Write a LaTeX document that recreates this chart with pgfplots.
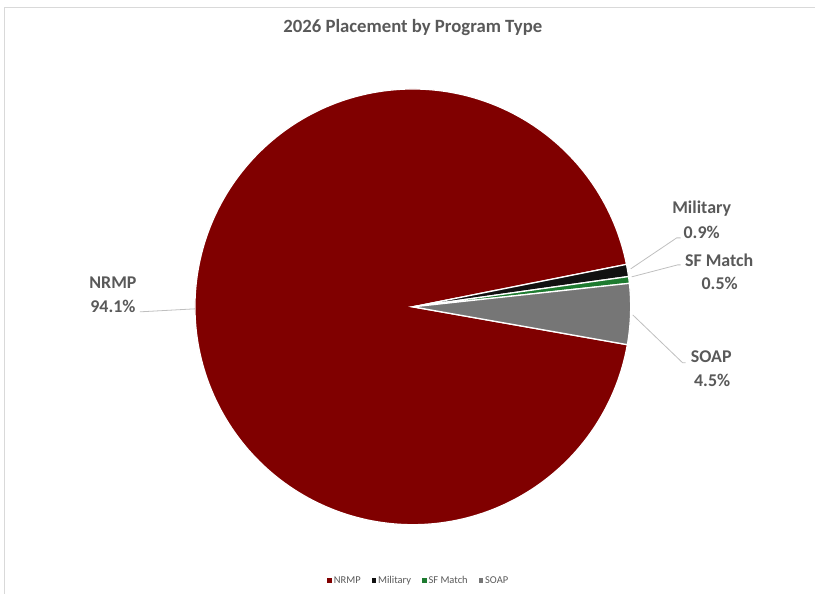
\documentclass[border=0pt]{standalone}
\usepackage{pgfplots}
\pgfplotsset{compat=1.18}
\usepackage{fontspec}
\setmainfont{Carlito}
\definecolor{nrmp}{HTML}{800000}
\definecolor{mil}{HTML}{111111}
\definecolor{sfm}{HTML}{1E7B30}
\definecolor{soap}{HTML}{767676}
\definecolor{txt}{HTML}{595959}
\definecolor{lead}{HTML}{BFBFBF}
\definecolor{frame}{HTML}{D9D9D9}
\begin{document}
\begin{tikzpicture}
% shares in percent (clockwise from NRMP)
\def\pN{94.1}\def\pM{0.9}\def\pF{0.5}\def\pS{4.5}
\pgfmathsetmacro\aZero{-10}
\pgfmathsetmacro\aN{\aZero-3.6*\pN}
\pgfmathsetmacro\aM{\aN-3.6*\pM}
\pgfmathsetmacro\aF{\aM-3.6*\pF}
\pgfmathsetmacro\aS{\aF-3.6*\pS}
\begin{axis}[
  scale only axis, width=815bp, height=594bp,
  xmin=0, xmax=815, ymin=0, ymax=594,
  hide axis, clip=false,
  legend columns=4,
  legend style={at={(axis cs:419,13)}, anchor=center, draw=none, fill=none,
    font=\fontsize{10.5}{12}\selectfont\color{txt},
    /tikz/every even column/.append style={column sep=9bp},
    inner sep=0pt},
  legend image code/.code={\fill[#1,draw=none] (0bp,-2bp) rectangle (4.5bp,2.5bp);},
]
\path (axis cs:0,0) rectangle (axis cs:815,594);
\addplot[forget plot, color=frame, line width=0.8bp] coordinates {(4,0) (4,587) (815,587)};
% slices
\addplot[fill=nrmp, draw=white, line width=1.3bp, domain=\aN:\aZero, samples=240]
  ({413+218*cos(x)},{287+218*sin(x)}) -- (axis cs:413,287) -- cycle;
\addlegendentry{NRMP}
\addplot[fill=mil, draw=white, line width=1.3bp, domain=\aM:\aN, samples=10]
  ({413+218*cos(x)},{287+218*sin(x)}) -- (axis cs:413,287) -- cycle;
\addlegendentry{Military}
\addplot[fill=sfm, draw=white, line width=1.3bp, domain=\aF:\aM, samples=10]
  ({413+218*cos(x)},{287+218*sin(x)}) -- (axis cs:413,287) -- cycle;
\addlegendentry{SF Match}
\addplot[fill=soap, draw=white, line width=1.3bp, domain=\aS:\aF, samples=30]
  ({413+218*cos(x)},{287+218*sin(x)}) -- (axis cs:413,287) -- cycle;
\addlegendentry{SOAP}
% leader lines
\addplot[forget plot, color=lead, line width=0.8bp] coordinates {(140,282) (195,285)};
\addplot[forget plot, color=lead, line width=0.8bp] coordinates {(631,325) (677,356) (681,356)};
\addplot[forget plot, color=lead, line width=0.8bp] coordinates {(632,317) (678,329) (681,329)};
\addplot[forget plot, color=lead, line width=0.8bp] coordinates {(633,279) (683,231) (686,231)};
% labels
\node[font=\bfseries\fontsize{18.8}{20}\selectfont, text=txt] at (axis cs:413,566) {2026 Placement by Program Type};
\tikzset{lab/.style={font=\bfseries\fontsize{18}{20}\selectfont, text=txt, align=center, inner sep=0pt}}
\node[lab] at (axis cs:113,311) {NRMP};
\node[lab] at (axis cs:113,287) {94.1\%};
\node[lab] at (axis cs:702,385) {Military};
\node[lab] at (axis cs:702,361) {0.9\%};
\node[lab] at (axis cs:719.5,334) {SF Match};
\node[lab] at (axis cs:720,310) {0.5\%};
\node[lab] at (axis cs:711.5,237) {SOAP};
\node[lab] at (axis cs:712.5,213) {4.5\%};
\end{axis}
\end{tikzpicture}
\end{document}
